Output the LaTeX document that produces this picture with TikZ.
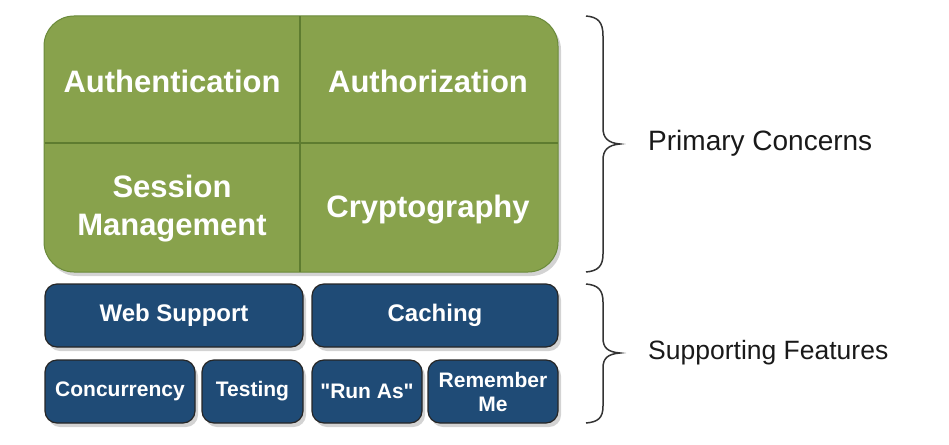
\documentclass[tikz,border=0pt]{standalone}
\usepackage{fontspec}
\setmainfont{Liberation Sans}[Ligatures=TeXOff]
\usetikzlibrary{shadows}
\definecolor{primgreen}{HTML}{88A24C}
\definecolor{primedge}{HTML}{6A8A3A}
\definecolor{primline}{HTML}{5E7C30}
\definecolor{featblue}{HTML}{1F4B76}
\definecolor{bracegray}{HTML}{333333}
\tikzset{
  shade/.style={drop shadow={opacity=0.35, shadow xshift=3pt, shadow yshift=-4pt}},
  primbox/.style={rectangle, rounded corners=30pt, fill=primgreen, draw=primedge, line width=1pt, shade, inner sep=0pt},
  primtext/.style={text=white, font=\bfseries\fontsize{31}{38}\selectfont, align=center, inner sep=0pt},
  feat/.style={rectangle, rounded corners=12pt, fill=featblue, draw=black!85, line width=1.2pt, shade, text=white, inner sep=0pt, align=center, minimum height=63pt},
  featbig/.style={feat, font=\bfseries\fontsize{24}{28}\selectfont},
  featsmall/.style={feat, font=\bfseries\fontsize{21}{25}\selectfont},
  bracepath/.style={draw=bracegray, line width=1.5pt},
  sidelabel/.style={anchor=west, font=\fontsize{28}{32}\selectfont, text=black!90, inner sep=0pt}
}
\begin{document}
\begin{tikzpicture}[x=1pt,y=-1pt]
\useasboundingbox (0,0) rectangle (949,444);
% primary concerns box
\node[primbox, minimum width=514pt, minimum height=256pt] (prim) at (301,144) {};
\coordinate (vtop) at (300,16.5);
\coordinate (vbot) at (300,271.5);
\coordinate (hl) at (44.5,143);
\coordinate (hr) at (557.5,143);
\draw[primline, line width=1.2pt] (vtop) -- (vbot);
\draw[primline, line width=1.2pt] (hl) -- (hr);
\node[primtext] (authn) at (172,81) {Authentication};
\node[primtext] (authz) at (428,81) {Authorization};
\node[primtext] (sess) at (172,209) {Session\\Management};
\node[primtext] (crypt) at (428,210) {Cryptography};
% supporting features
\node[featbig, minimum width=258pt] (web) at (174,315.5) {Web Support};
\node[featbig, minimum width=246pt] (cache) at (435,315.5) {Caching};
\node[featsmall, minimum width=150pt] (conc) at (120,391.5) {Concurrency};
\node[featsmall, minimum width=101pt] (test) at (252.5,391.5) {Testing};
\node[featsmall, minimum width=110pt] (runas) at (367,391.5) {"Run As"};
\node[featsmall, minimum width=130pt, font=\bfseries\fontsize{21}{24}\selectfont] (remember) at (493,391.5) {Remember\\Me};
% braces
\path[bracepath] (586,16) .. controls (598,17) and (603,22) .. (603,36) -- (603,128)
  .. controls (603,138) and (608,143) .. (620,144)
  .. controls (608,145) and (603,150) .. (603,160) -- (603,254)
  .. controls (603,266) and (598,271) .. (586,272);
\path[bracepath] (586,284) .. controls (598,285) and (603,290) .. (603,302) -- (603,338)
  .. controls (603,348) and (608,352) .. (620,353)
  .. controls (608,354) and (603,358) .. (603,368) -- (603,406)
  .. controls (603,418) and (598,422) .. (586,423);
\node[sidelabel] (primlabel) at (648,143) {Primary Concerns};
\node[sidelabel, font=\fontsize{26.5}{30}\selectfont] (suplabel) at (648,353) {Supporting Features};
\end{tikzpicture}
\end{document}
